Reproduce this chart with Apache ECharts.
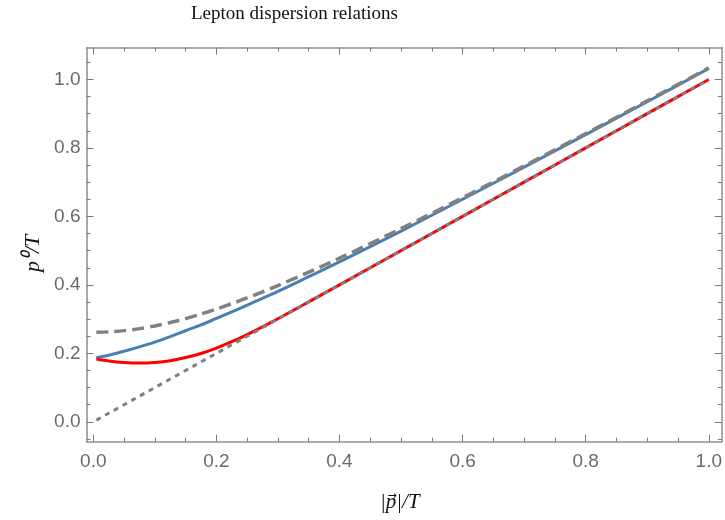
<!DOCTYPE html>
<html>
<head>
<meta charset="utf-8">
<script src="https://cdn.jsdelivr.net/npm/echarts@6/dist/echarts.min.js"></script>
<style>
  html, body { margin: 0; padding: 0; background: #fff; }
  #chart { width: 725px; height: 520px; }
</style>
</head>
<body>
<div id="chart"></div>
<script>
// momentum |p|/T
var pGrid = [0.005, 0.025, 0.05, 0.075, 0.1, 0.125, 0.15, 0.175, 0.2, 0.225, 0.25, 0.3, 0.35, 0.4, 0.5, 0.6, 0.7, 0.8, 0.9, 1.0];
// particle branch (blue)
var particle = [0.187, 0.1945, 0.206, 0.219, 0.233, 0.249, 0.266, 0.283, 0.302, 0.321, 0.341, 0.381, 0.424, 0.467, 0.557, 0.650, 0.744, 0.839, 0.935, 1.032];
// hole / plasmino branch (red)
var hole = [0.1833, 0.1778, 0.1733, 0.1715, 0.1733, 0.1784, 0.1877, 0.1996, 0.2154, 0.234, 0.2549, 0.3012, 0.3503, 0.4001, 0.5, 0.6, 0.7, 0.8, 0.9, 1.0];
// asymptotic mass shell (dashed)
var asymptote = [0.2616, 0.2628, 0.2664, 0.2722, 0.2801, 0.2900, 0.3016, 0.3148, 0.3293, 0.3451, 0.3619, 0.3981, 0.4370, 0.4780, 0.5643, 0.6546, 0.7473, 0.8417, 0.9373, 1.0337];
// light cone (dotted)
var lightCone = [0.005, 0.025, 0.05, 0.075, 0.1, 0.125, 0.15, 0.175, 0.2, 0.225, 0.25, 0.3, 0.35, 0.4, 0.5, 0.6, 0.7, 0.8, 0.9, 1.0];

var xMajor = [0, 0.2, 0.4, 0.6, 0.8, 1.0];
var xMinor = [0.05, 0.1, 0.15, 0.25, 0.3, 0.35, 0.45, 0.5, 0.55, 0.65, 0.7, 0.75, 0.85, 0.9, 0.95];
var yMajor = [0, 0.2, 0.4, 0.6, 0.8, 1.0];
var yMinor = [-0.05, 0.05, 0.1, 0.15, 0.25, 0.3, 0.35, 0.45, 0.5, 0.55, 0.65, 0.7, 0.75, 0.85, 0.9, 0.95, 1.05];

function pairs(ys) {
  return pGrid.map(function (p, i) { return [p, ys[i]]; });
}

var frameColor = '#8f8f8f';
var tickColor = '#7a7a7a';
var labelColor = '#6a6a6a';
var xMin = -0.011, xMax = 1.021, yMin = -0.058, yMax = 1.093;

function makeAxis(kind, pos, ticks, len, labels, line) {
  var a = {
    type: 'value',
    position: pos,
    min: kind === 'x' ? xMin : yMin,
    max: kind === 'x' ? xMax : yMax,
    splitLine: { show: false },
    axisLine: { show: line, onZero: false, lineStyle: { color: frameColor, width: 1.5 } },
    axisTick: { show: true, inside: true, length: len, customValues: ticks, lineStyle: { color: tickColor, width: 1 } },
    axisLabel: { show: false }
  };
  if (labels) {
    a.axisLabel = {
      show: true,
      customValues: ticks,
      color: labelColor,
      fontFamily: 'Liberation Sans',
      fontSize: 19,
      margin: kind === 'x' ? 11 : 6,
      formatter: function (v) { return v.toFixed(1); }
    };
  }
  return a;
}

var chart = echarts.init(document.getElementById('chart'));

var option = {
  animation: false,
  backgroundColor: '#fff',
  title: {
    text: 'Lepton dispersion relations',
    left: 186,
    top: 0,
    textStyle: { fontFamily: 'Liberation Serif', fontSize: 19, fontWeight: 'normal', color: '#111' }
  },
  grid: { left: 86.5, right: 2, top: 47.6, bottom: 78.3 },
  xAxis: [
    makeAxis('x', 'bottom', xMajor, 7, true, true),
    makeAxis('x', 'bottom', xMinor, 4, false, false),
    makeAxis('x', 'top', xMajor, 7, false, true),
    makeAxis('x', 'top', xMinor, 4, false, false)
  ],
  yAxis: [
    makeAxis('y', 'left', yMajor, 7, true, true),
    makeAxis('y', 'left', yMinor, 4, false, false),
    makeAxis('y', 'right', yMajor, 7, false, true),
    makeAxis('y', 'right', yMinor, 4, false, false)
  ],
  graphic: [
    {
      type: 'text',
      x: 380,
      y: 492,
      style: { text: '|p|/T', font: 'italic 21px "Liberation Serif"', fill: '#111' }
    },
    {
      type: 'text',
      x: 392,
      y: 496,
      style: { text: '\u2192', font: '11px "DejaVu Sans"', fill: '#111', align: 'center', verticalAlign: 'middle' }
    },
    {
      type: 'text',
      x: 22,
      y: 272,
      rotation: Math.PI / 2,
      style: { text: 'p\u2070/T', font: 'italic 22px "Liberation Serif"', fill: '#111' }
    }
  ],
  series: [
    {
      name: 'particle',
      type: 'line',
      data: pairs(particle),
      smooth: 0.3,
      showSymbol: false,
      lineStyle: { color: '#4a7fb0', width: 3 },
      z: 2
    },
    {
      name: 'hole',
      type: 'line',
      data: pairs(hole),
      smooth: 0.3,
      showSymbol: false,
      lineStyle: { color: '#ff0000', width: 3 },
      z: 3
    },
    {
      name: 'asymptote',
      type: 'line',
      data: pairs(asymptote),
      smooth: 0.3,
      showSymbol: false,
      lineStyle: { color: '#808080', width: 3.5, type: [12, 6] },
      z: 4
    },
    {
      name: 'light cone',
      type: 'line',
      data: pairs(lightCone),
      showSymbol: false,
      lineStyle: { color: '#808080', width: 3, type: [5, 5] },
      z: 5
    }
  ]
};

chart.setOption(option);
</script>
</body>
</html>
